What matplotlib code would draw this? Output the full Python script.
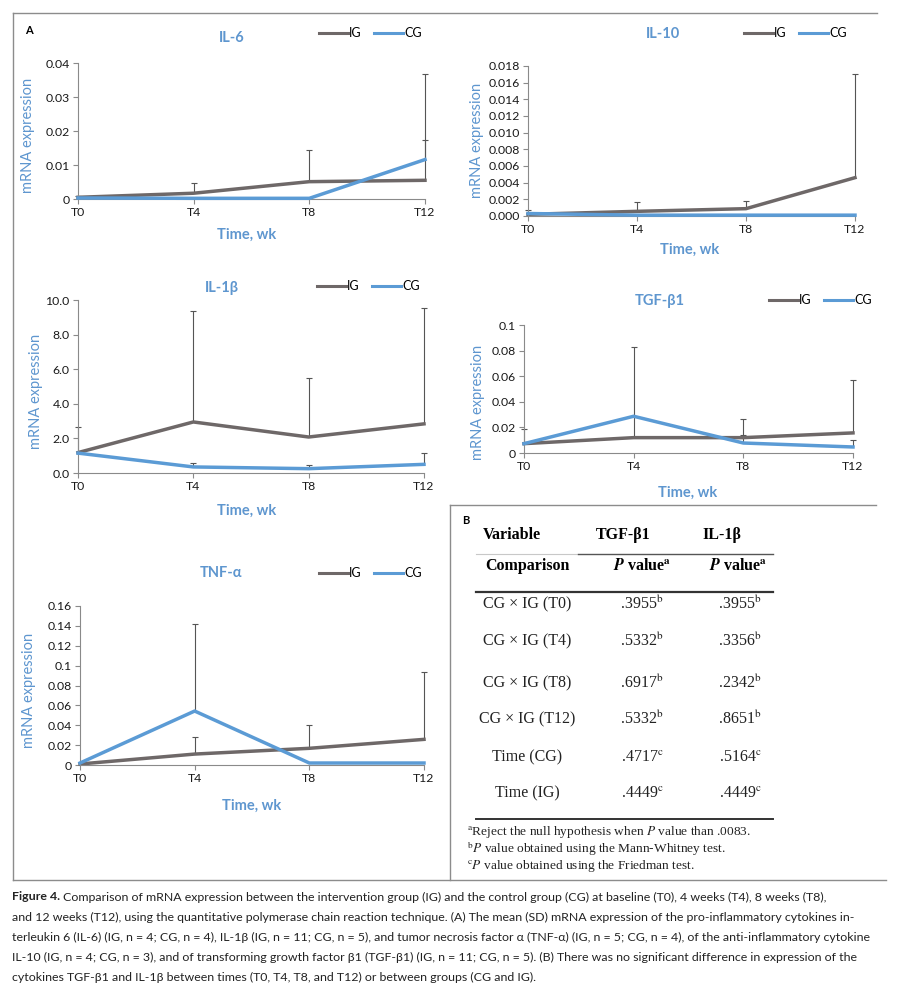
import numpy as np
import matplotlib
matplotlib.use('Agg')
import matplotlib.pyplot as plt
from matplotlib.lines import Line2D
from matplotlib.ticker import FuncFormatter

W, H = 898, 990

times = ['T0', 'T4', 'T8', 'T12']

# IL-6 (mean, SD)
il6_ig = [0.0005, 0.0017, 0.0051, 0.0055]
il6_ig_sd = [0.0005, 0.0029, 0.0094, 0.0313]
il6_cg = [0.0003, 0.0002, 0.0002, 0.0116]
il6_cg_sd = [0.0, 0.0, 0.0, 0.0057]

# IL-10
il10_ig = [0.0002, 0.00056, 0.00088, 0.0046]
il10_ig_sd = [0.0005, 0.0011, 0.0009, 0.0124]
il10_cg = [0.0003, 0.0001, 0.0001, 0.0001]
il10_cg_sd = [0.0, 0.0, 0.0, 0.0]

# IL-1b
il1b_ig = [1.18, 2.95, 2.08, 2.84]
il1b_ig_sd = [1.5, 6.43, 3.42, 6.68]
il1b_cg = [1.15, 0.35, 0.25, 0.5]
il1b_cg_sd = [0.0, 0.23, 0.23, 0.64]

# TGF-b1
tgf_ig = [0.0073, 0.012, 0.012, 0.0157]
tgf_ig_sd = [0.0112, 0.071, 0.0146, 0.0417]
tgf_cg = [0.0073, 0.0287, 0.0078, 0.0047]
tgf_cg_sd = [0.0, 0.0, 0.0062, 0.0052]

# TNF-a
tnf_ig = [0.001, 0.011, 0.0168, 0.0258]
tnf_ig_sd = [0.0, 0.0175, 0.0232, 0.0674]
tnf_cg = [0.002, 0.0543, 0.002, 0.002]
tnf_cg_sd = [0.0, 0.0877, 0.0, 0.0]

# tabela B
tbl_head = ['Variable', 'TGF-β1', 'IL-1β']
tbl_rows = ['CG × IG (T0)', 'CG × IG (T4)', 'CG × IG (T8)', 'CG × IG (T12)', 'Time (CG)', 'Time (IG)']
tgf_p = ['.3955', '.5332', '.6917', '.5332', '.4717', '.4449']
il1b_p = ['.3955', '.3356', '.2342', '.8651', '.5164', '.4449']
p_note = ['b', 'b', 'b', 'b', 'c', 'c']

footnotes = [
    r'$^{\mathrm{a}}$Reject the null hypothesis when $\mathit{P}$ value than .0083.',
    r'$^{\mathrm{b}}$$\mathit{P}$ value obtained using the Mann-Whitney test.',
    r'$^{\mathrm{c}}$$\mathit{P}$ value obtained using the Friedman test.',
]

caption = [
    'Comparison of mRNA expression between the intervention group (IG) and the control group (CG) at baseline (T0), 4 weeks (T4), 8 weeks (T8),',
    'and 12 weeks (T12), using the quantitative polymerase chain reaction technique. (A) The mean (SD) mRNA expression of the pro-inflammatory cytokines in-',
    'terleukin 6 (IL-6) (IG, n = 4; CG, n = 4), IL-1β (IG, n = 11; CG, n = 5), and tumor necrosis factor α (TNF-α) (IG, n = 5; CG, n = 4), of the anti-inflammatory cytokine',
    'IL-10 (IG, n = 4; CG, n = 3), and of transforming growth factor β1 (TGF-β1) (IG, n = 11; CG, n = 5). (B) There was no significant difference in expression of the',
    'cytokines TGF-β1 and IL-1β between times (T0, T4, T8, and T12) or between groups (CG and IG).',
]

plt.rcParams['mathtext.fontset'] = 'stix'

IG_C = '#6E6868'
CG_C = '#5B9BD5'
BLUE_T = '#5E96CF'
ERR = '#555555'
AX_C = '#8A8A8A'
FRAME = '#8C8C8C'
SANS = ['Lato', 'DejaVu Sans']
SERIF = ['Liberation Serif', 'DejaVu Serif']

fig = plt.figure(figsize=(W / 100, H / 100), dpi=100)
fig.patch.set_facecolor('white')


def fx(x):
    return x / W


def fy(y):
    return 1 - y / H


def gtext(x, y, s, **kw):
    kw.setdefault('ha', 'center')
    kw.setdefault('va', 'center')
    return fig.text(fx(x), fy(y), s, **kw)


def panel(box, ig, ig_sd, cg, cg_sd, yticks, fmt, title, tpos, legx, legy, ylab, xlab):
    x0, x1, yt, yb = box
    ax = fig.add_axes([fx(x0), fy(yb), (x1 - x0) / W, (yb - yt) / H])
    x = np.arange(len(times))
    for mean, sd in ((ig, ig_sd), (cg, cg_sd)):
        mean = np.asarray(mean)
        sd = np.asarray(sd)
        m = sd > 0
        ax.vlines(x[m], mean[m], mean[m] + sd[m], color=ERR, lw=0.8, zorder=1, clip_on=False)
        ax.plot(x[m], mean[m] + sd[m], ls='none', marker='_', ms=5, mew=0.8,
                color=ERR, zorder=1, clip_on=False)
    ax.plot(x, ig, color=IG_C, lw=2.5, zorder=2, clip_on=False)
    ax.plot(x, cg, color=CG_C, lw=2.5, zorder=3, clip_on=False)
    ax.set_xlim(0, 3)
    ax.set_ylim(yticks[0], yticks[-1])
    ax.set_xticks(x, times)
    ax.set_yticks(yticks)
    ax.yaxis.set_major_formatter(FuncFormatter(fmt))
    for s in ['top', 'right']:
        ax.spines[s].set_visible(False)
    for s in ['left', 'bottom']:
        ax.spines[s].set_color(AX_C)
        ax.spines[s].set_linewidth(0.8)
    ax.tick_params(length=3.5, width=0.8, color=AX_C, labelsize=8.8, pad=2.5,
                   labelcolor='#1a1a1a')
    for lab in ax.get_xticklabels() + ax.get_yticklabels():
        lab.set_family(SANS)
    ax.patch.set_alpha(0)

    gtext(tpos[0], tpos[1], title, color=BLUE_T, fontsize=10.5, weight='bold', family=SANS)
    handles = [Line2D([], [], color=IG_C, lw=2.2), Line2D([], [], color=CG_C, lw=2.2)]
    ax.legend(handles, ['IG', 'CG'], ncol=2, loc='center left',
              bbox_to_anchor=(fx(legx), fy(legy)), bbox_transform=fig.transFigure,
              frameon=False, borderpad=0, borderaxespad=0, handlelength=2.3,
              handletextpad=0.1, columnspacing=1.0, prop={'family': SANS, 'size': 9})
    gtext(ylab[0], ylab[1], 'mRNA expression', rotation=90, color=BLUE_T,
          fontsize=10.5, family=SANS)
    gtext(xlab[0], xlab[1], 'Time, wk', color=BLUE_T, fontsize=10.5, weight='bold', family=SANS)
    return ax


fmt_g = lambda v, p: f'{v:g}'
fmt_3 = lambda v, p: f'{v:.3f}'
fmt_1 = lambda v, p: f'{v:.1f}'

panel((78, 425, 63, 199), il6_ig, il6_ig_sd, il6_cg, il6_cg_sd,
      np.linspace(0, 0.04, 5), fmt_g, 'IL-6', (232, 38), 319, 33, (28, 135), (247, 235))
panel((528, 855, 66, 216), il10_ig, il10_ig_sd, il10_cg, il10_cg_sd,
      np.linspace(0, 0.018, 10), fmt_3, 'IL-10', (663, 34), 744, 33, (477, 140), (690, 250))
panel((78, 424, 300, 473), il1b_ig, il1b_ig_sd, il1b_cg, il1b_cg_sd,
      np.linspace(0, 10, 6), fmt_1, 'IL-1β', (222, 288), 317, 286, (36, 391), (247, 511))
panel((524, 853, 325, 453), tgf_ig, tgf_ig_sd, tgf_cg, tgf_cg_sd,
      np.linspace(0, 0.1, 6), fmt_g, 'TGF-β1', (660, 301), 769, 300, (478, 402), (688, 493))
panel((80, 424, 606, 765), tnf_ig, tnf_ig_sd, tnf_cg, tnf_cg_sd,
      np.linspace(0, 0.16, 9), fmt_g, 'TNF-α', (221, 573), 319, 573, (29, 690), (252, 806))

# moldura
def hline(y, xa, xb, color=FRAME, lw=1.0):
    fig.add_artist(Line2D([fx(xa), fx(xb)], [fy(y), fy(y)], color=color, lw=lw))


def vline(x, ya, yb, color=FRAME, lw=1.0):
    fig.add_artist(Line2D([fx(x), fx(x)], [fy(ya), fy(yb)], color=color, lw=lw))


hline(13, 13, 877)
vline(13, 13, 880)
hline(880, 13, 886)
vline(450, 505, 880)
hline(505, 450, 876)

gtext(25, 30, 'A', fontsize=8, weight='bold', family=SANS, ha='left')
gtext(462, 520, 'B', fontsize=8, weight='bold', family=SANS, ha='left')

# tabela
gtext(512, 535, tbl_head[0], fontsize=11.5, weight='bold', family=SERIF)
gtext(623, 535, tbl_head[1], fontsize=11.5, weight='bold', family=SERIF)
gtext(722, 535, tbl_head[2], fontsize=11.5, weight='bold', family=SERIF)
hline(554, 476, 578, color='#c8c8c8', lw=0.8)
hline(554, 578, 773, color='#555555', lw=1.0)
gtext(527, 566, 'Comparison', fontsize=11.5, weight='bold', family=SERIF)
gtext(642, 566, r'$\mathbfit{P}$ value$^{\mathbf{a}}$', fontsize=11.5, weight='bold', family=SERIF)
gtext(738, 566, r'$\mathbfit{P}$ value$^{\mathbf{a}}$', fontsize=11.5, weight='bold', family=SERIF)
hline(592, 476, 773, color='#333333', lw=1.6)

row_y = [604, 641, 683, 719, 757, 793]
for i, lab in enumerate(tbl_rows):
    gtext(527, row_y[i], lab, fontsize=11.5, family=SERIF, color='#222222')
    gtext(642, row_y[i], tgf_p[i] + r'$^{\mathrm{' + p_note[i] + '}}$', fontsize=11.5,
          family=SERIF, color='#222222')
    gtext(740, row_y[i], il1b_p[i] + r'$^{\mathrm{' + p_note[i] + '}}$', fontsize=11.5,
          family=SERIF, color='#222222')
hline(819, 476, 773, color='#333333', lw=1.4)

for i, s in enumerate(footnotes):
    gtext(467, 832 + i * 17, s, fontsize=9.6, family=SERIF, ha='left', color='#222222')

# legenda da figura: ajusta o tamanho para caber na largura
CAP = ['Lato', 'DejaVu Sans']
r = fig.canvas.get_renderer()
fs0 = 9.0
probe = [gtext(12, 0, 'Figure 4. ' + caption[0], fontsize=fs0, family=CAP, ha='left')]
probe += [gtext(12, 0, s, fontsize=fs0, family=CAP, ha='left') for s in caption[1:]]
widest = max(t.get_window_extent(renderer=r).width for t in probe)
for t in probe:
    t.remove()
fs = fs0 * 862 / widest

t0 = gtext(12, 897, 'Figure 4.', fontsize=fs, weight='bold', family=CAP, ha='left', color='#222222')
bb = t0.get_window_extent(renderer=r)
for i, s in enumerate(caption):
    if i == 0:
        fig.text((bb.x1 + 3) / W, fy(897), s, fontsize=fs, family=CAP, ha='left',
                 va='center', color='#222222')
    else:
        gtext(12, 897 + i * 20, s, fontsize=fs, family=CAP, ha='left', color='#222222')

fig.savefig('out.png', dpi=100, facecolor='white')
